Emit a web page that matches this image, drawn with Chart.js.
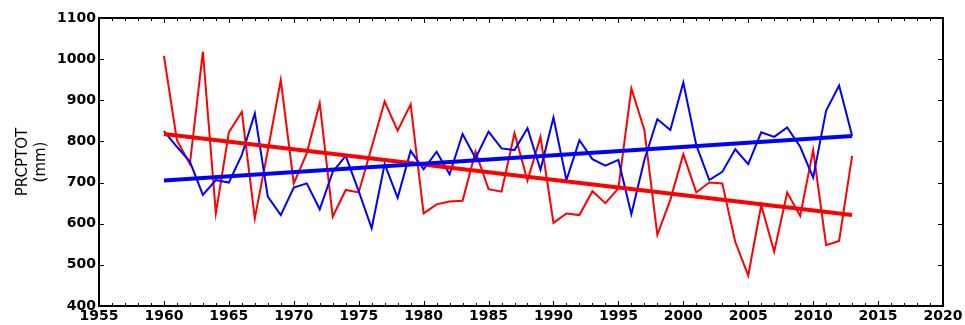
<!DOCTYPE html>
<html>
<head>
<meta charset="utf-8">
<script src="https://cdn.jsdelivr.net/npm/chart.js@4.4.1/dist/chart.umd.min.js"></script>
<style>
  html, body { margin: 0; padding: 0; background: #fff; }
  #wrap { width: 965px; height: 325px; }
</style>
</head>
<body>
<div id="wrap"><canvas id="c" width="965" height="325"></canvas></div>
<script>
// Annual total precipitation (mm), 1960-2013
const years = [];
for (let y = 1960; y <= 2013; y++) years.push(y);

const redSeries = [
  1008, 803, 745, 1018, 625, 822, 872, 613, 778, 949,
  698, 771, 893, 617, 682, 676, 786, 897, 826, 890,
  625, 647, 654, 656, 775, 684, 678, 820, 705, 811,
  602, 625, 621, 679, 650, 686, 929, 828, 573, 658,
  769, 676, 700, 698, 556, 474, 645, 532, 676, 619,
  779, 548, 558, 765
];

const blueSeries = [
  825, 787, 751, 670, 706, 700, 767, 868, 666, 621,
  688, 698, 635, 726, 765, 679, 589, 745, 663, 777,
  732, 775, 720, 818, 759, 824, 783, 779, 832, 731,
  858, 706, 803, 757, 741, 755, 623, 755, 854, 828,
  943, 791, 706, 726, 781, 745, 822, 811, 834, 787,
  712, 875, 936, 814
];

// Linear trend end points (first and last year)
const trendYears = [1960, 2013];
const redTrend = [818, 621];
const blueTrend = [705, 813];

const xTicks = [1955, 1960, 1965, 1970, 1975, 1980, 1985, 1990, 1995, 2000, 2005, 2010, 2015, 2020];
const yTicks = [400, 500, 600, 700, 800, 900, 1000, 1100];

const pts = (xs, ys) => xs.map((x, i) => ({ x: x, y: ys[i] }));

// Closed frame with inward ticks on all four sides, drawn as filled strips
const axesFrame = {
  id: 'axesFrame',
  afterDraw(chart) {
    const ctx = chart.ctx;
    const a = chart.chartArea;
    const xs = chart.scales.x, ys = chart.scales.y;
    const L = Math.round(a.left), R = Math.round(a.right);
    const T = Math.round(a.top), B = Math.round(a.bottom);
    ctx.save();
    ctx.fillStyle = 'rgb(0,0,0)';
    ctx.fillRect(L - 1, T - 1, R - L + 2, 2);
    ctx.fillRect(L - 1, B - 1, R - L + 2, 2);
    ctx.fillRect(L - 1, T - 1, 2, B - T + 2);
    ctx.fillRect(R - 1, T - 1, 2, B - T + 2);
    for (let v = 1955; v <= 2020; v++) {
      const px = Math.round(xs.getPixelForValue(v));
      const len = (v % 5 === 0) ? 5 : 3;
      ctx.fillRect(px, B - len, 1, len);
      ctx.fillRect(px, T, 1, len);
    }
    for (const v of yTicks) {
      const py = Math.round(ys.getPixelForValue(v));
      ctx.fillRect(L, py, 5, 1);
      ctx.fillRect(R - 5, py, 5, 1);
    }
    ctx.restore();
  }
};
Chart.register(axesFrame);

const font = { family: 'DejaVu Sans', size: 14, weight: 'bold' };

new Chart(document.getElementById('c'), {
  type: 'line',
  data: {
    datasets: [
      { data: pts(trendYears, blueTrend), borderColor: '#0000ff', borderWidth: 4, order: 0 },
      { data: pts(trendYears, redTrend), borderColor: '#ff0000', borderWidth: 4, order: 1 },
      { data: pts(years, blueSeries), borderColor: '#0000ff', borderWidth: 2, order: 2 },
      { data: pts(years, redSeries), borderColor: '#ff0000', borderWidth: 2, order: 3 }
    ]
  },
  options: {
    responsive: false,
    animation: false,
    events: [],
    layout: { padding: { left: 14, right: 22, top: 18, bottom: 0 } },
    elements: { point: { radius: 0 }, line: { tension: 0, borderJoinStyle: 'miter' } },
    plugins: { legend: { display: false }, tooltip: { enabled: false } },
    scales: {
      x: {
        type: 'linear',
        min: 1955, max: 2020,
        grid: { display: false, drawTicks: false },
        border: { display: false },
        afterBuildTicks(s) { s.ticks = xTicks.map(v => ({ value: v })); },
        afterFit(s) { s.height = 19; },
        ticks: { color: '#000', font: font, padding: 2, maxRotation: 0, autoSkip: false,
                 callback: v => String(v) }
      },
      y: {
        min: 400, max: 1100,
        grid: { display: false, drawTicks: false },
        border: { display: false },
        afterBuildTicks(s) { s.ticks = yTicks.map(v => ({ value: v })); },
        afterFit(s) { s.width = 85; },
        title: { display: true, text: ['PRCPTOT', '(mm)'], color: '#000',
                 font: { family: 'DejaVu Sans', size: 15 }, padding: { top: 0, bottom: 4 } },
        ticks: { color: '#000', font: font, padding: 3, callback: v => String(v) }
      }
    }
  }
});
</script>
</body>
</html>
